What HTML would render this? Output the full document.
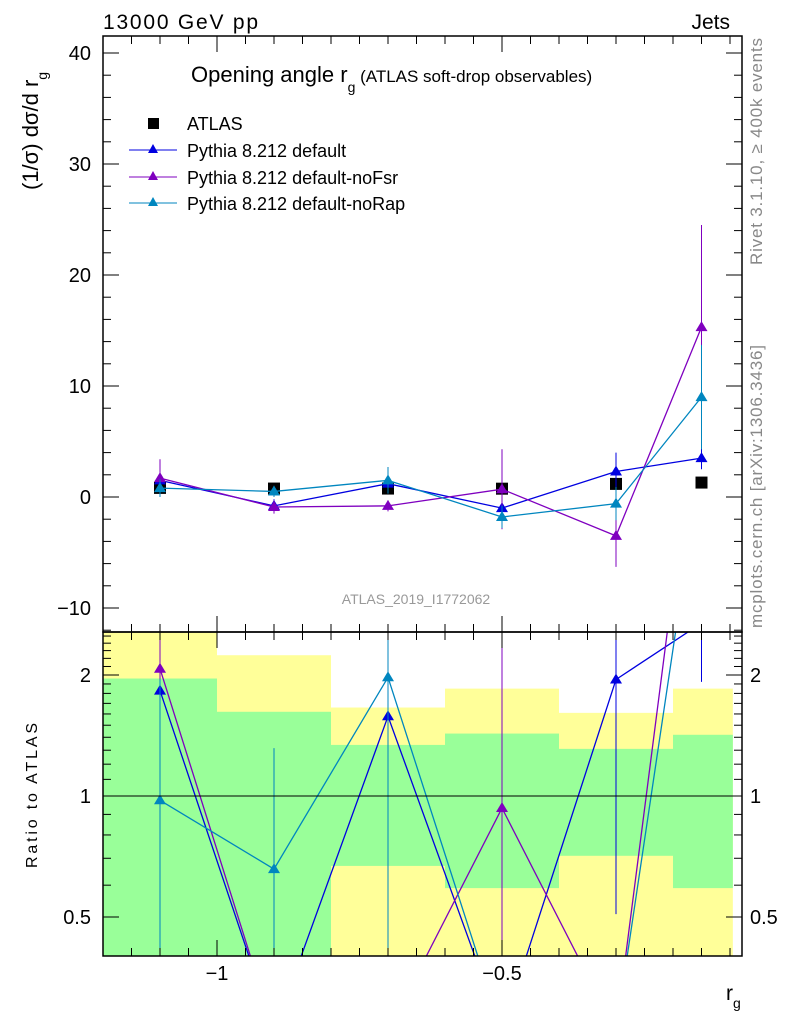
<!DOCTYPE html>
<html><head><meta charset="utf-8"><style>
html,body{margin:0;padding:0;background:#fff;overflow:hidden;}
svg{display:block;font-family:"Liberation Sans",sans-serif;}
</style></head><body>
<svg id="chart" width="786" height="1024" viewBox="0 0 786 1024" xmlns="http://www.w3.org/2000/svg">
<g id="bands"></g>
<g id="marks"></g>
<g id="axes"></g>
<text x="103" y="29" font-size="21" textLength="155">13000 GeV pp</text>
<text x="730" y="29" font-size="21" text-anchor="end">Jets</text>
<text x="191" y="82" font-size="22">Opening angle r<tspan font-size="14" dy="10">g</tspan><tspan font-size="17" dy="-10"> (ATLAS soft-drop observables)</tspan></text>
<g font-size="18">
<rect x="148" y="118" width="11" height="11" fill="#000"/>
<text x="187" y="130">ATLAS</text>
<line x1="129" y1="150" x2="177" y2="150" stroke="#0000e0"/>
<polygon points="153,144 158,153 148,153" fill="#0000e0"/>
<text x="187" y="157">Pythia 8.212 default</text>
<line x1="129" y1="177" x2="177" y2="177" stroke="#7f00bf"/>
<polygon points="153,171 158,180 148,180" fill="#7f00bf"/>
<text x="187" y="184">Pythia 8.212 default-noFsr</text>
<line x1="129" y1="203" x2="177" y2="203" stroke="#0086bf"/>
<polygon points="153,197 158,206 148,206" fill="#0086bf"/>
<text x="187" y="210">Pythia 8.212 default-noRap</text>
</g>
<text x="416" y="604" font-size="14" fill="#999" text-anchor="middle">ATLAS_2019_I1772062</text>
<text transform="translate(762,265) rotate(-90)" font-size="17" fill="#888" textLength="227">Rivet 3.1.10, ≥ 400k events</text>
<text transform="translate(762,628) rotate(-90)" font-size="17" fill="#888" textLength="283">mcplots.cern.ch [arXiv:1306.3436]</text>
<text transform="translate(38,190) rotate(-90)" font-size="22">(1/σ) dσ/d r<tspan font-size="14" dy="9">g</tspan></text>
<text transform="translate(37,868) rotate(-90)" font-size="16" textLength="145">Ratio to ATLAS</text>
<text x="726" y="1000" font-size="21">r<tspan font-size="14" dy="8">g</tspan></text>
</svg>
<script>
const xVals=[-1.1,-0.9,-0.7,-0.5,-0.3,-0.15];
const atlas=[0.82,0.76,0.76,0.75,1.18,1.3];
const pyDefault=[1.5,-0.8,1.2,-1.0,2.3,3.5];
const pyDefaultErr=[1.0,0.6,0.7,1.3,1.7,1.0];
const pyNoFsr=[1.7,-0.9,-0.8,0.7,-3.5,15.3];
const pyNoFsrErr=[1.7,0.6,0.5,3.6,2.8,9.2];
const pyNoRap=[0.8,0.5,1.5,-1.8,-0.6,9.0];
const pyNoRapErr=[0.8,0.5,1.2,1.0,1.5,4.7];
const binEdges=[-1.2,-1.0,-0.8,-0.6,-0.4,-0.2,-0.095];
const yellowHi=[3,2.24,1.66,1.85,1.61,1.85];
const yellowLo=[0.1,0.1,0.1,0.1,0.1,0.1];
const greenHi=[1.96,1.62,1.34,1.43,1.31,1.42];
const greenLo=[0.1,0.1,0.67,0.59,0.71,0.59];
const yTicks=[-10,0,10,20,30,40];
const rTicks=[0.5,1,2];
const xTicks=[-1,-0.5];

const NS='http://www.w3.org/2000/svg';
const L=103,R=742,T=36,M=632,B=956;
const RMIN=0.26;
const X=v=>L+(v+1.2)*570;
const Y=v=>497-v*11.1;
const RY=v=>796-Math.log2(Math.max(v,RMIN))*121;
const cl=(y,a,b)=>Math.max(a,Math.min(b,y));
function mk(p,tag,at){const e=document.createElementNS(NS,tag);for(const k in at)e.setAttribute(k,at[k]);p.appendChild(e);return e;}
const bands=document.getElementById('bands'),marks=document.getElementById('marks'),axes=document.getElementById('axes');
for(let i=0;i<yellowHi.length;i++){
 const x1=X(binEdges[i]),x2=X(binEdges[i+1]);
 let y1=cl(RY(yellowHi[i]),M,B),y2=cl(RY(yellowLo[i]),M,B);
 const r=mk(bands,'rect',{x:x1,y:y1,width:x2-x1,height:y2-y1,fill:'#ffff99'});
 
 
 y1=cl(RY(greenHi[i]),M,B);y2=cl(RY(greenLo[i]),M,B);
 const g=mk(bands,'rect',{x:x1,y:y1,width:x2-x1,height:y2-y1,fill:'#99ff99'});
 
 
}
mk(axes,'line',{x1:L,x2:R,y1:RY(1),y2:RY(1),stroke:'#000'});
const series=[[pyDefault,pyDefaultErr,'#0000e0','default'],[pyNoFsr,pyNoFsrErr,'#7f00bf','nofsr'],[pyNoRap,pyNoRapErr,'#0086bf','norap']];
const defs=mk(document.getElementById('chart'),'defs',{});
const c1=mk(defs,'clipPath',{id:'cm'});mk(c1,'rect',{x:L,y:T,width:R-L,height:M-T});
const c2=mk(defs,'clipPath',{id:'cr'});mk(c2,'rect',{x:L,y:M,width:R-L,height:B-M});
const gm=mk(marks,'g',{'clip-path':'url(#cm)'}),gr=mk(marks,'g',{'clip-path':'url(#cr)'});
xVals.forEach((x,i)=>{const r=mk(gm,'rect',{x:X(x)-6,y:Y(atlas[i])-6,width:12,height:12,fill:'#000'});
 
 });
function tri(g,x,y,c){return mk(g,'polygon',{points:`${x},${y-6} ${x+6},${y+4} ${x-6},${y+4}`,fill:c});}
series.forEach(([v,e,c,n])=>{
 const pl=mk(gm,'polyline',{points:xVals.map((x,i)=>X(x)+','+Y(v[i])).join(' '),fill:'none',stroke:c,'stroke-width':1.3});
 
 
 const pr=mk(gr,'polyline',{points:xVals.map((x,i)=>X(x)+','+RY(v[i]/atlas[i])).join(' '),fill:'none',stroke:c,'stroke-width':1.3});
 
 
 xVals.forEach((x,i)=>{
  mk(gm,'line',{x1:X(x),x2:X(x),y1:Y(v[i]-e[i]),y2:Y(v[i]+e[i]),stroke:c});
  const t=tri(gm,X(x),Y(v[i]),c);
  
  
  const lo=(v[i]-e[i])/atlas[i],hi=(v[i]+e[i])/atlas[i];
  if(v[i]>0){mk(gr,'line',{x1:X(x),x2:X(x),y1:RY(lo),y2:RY(hi),stroke:c});
   const rt=tri(gr,X(x),RY(v[i]/atlas[i]),c);
   
   }
 });
});
mk(axes,'rect',{x:L,y:T,width:R-L,height:M-T,fill:'none',stroke:'#000','stroke-width':1.5});
mk(axes,'rect',{x:L,y:M,width:R-L,height:B-M,fill:'none',stroke:'#000','stroke-width':1.5});
for(let k=0;k<=22;k++){const v=-1.2+k*0.05;const x=X(v);if(x>R)break;
 const maj=Math.abs(v*2-Math.round(v*2))<1e-6;const len=maj?16:8;
 [T,M].forEach(y0=>mk(axes,'line',{x1:x,x2:x,y1:y0,y2:y0+len,stroke:'#000'}));
 [M,B].forEach(y0=>mk(axes,'line',{x1:x,x2:x,y1:y0,y2:y0-len,stroke:'#000'}));}
xTicks.forEach(v=>{const t=mk(axes,'text',{x:X(v),y:980,'font-size':20,'text-anchor':'middle'});t.textContent='\u2212'+String(Math.abs(v));
 
 });
for(let v=-12;v<=41;v+=2){const y=Y(v);const maj=v%10===0;const len=maj?16:8;
 mk(axes,'line',{x1:L,x2:L+len,y1:y,y2:y,stroke:'#000'});mk(axes,'line',{x1:R,x2:R-len,y1:y,y2:y,stroke:'#000'});}
yTicks.forEach(v=>{const t=mk(axes,'text',{x:L-12,y:Y(v)+7,'font-size':20,'text-anchor':'end'});t.textContent=v<0?'\u2212'+(-v):String(v);
 
 });
[0.5,0.6,0.7,0.8,0.9,1,1.1,1.2,1.3,1.4,1.5,1.6,1.7,1.8,1.9,2,2.1,2.2,2.3,2.4,2.5].forEach(v=>{const y=RY(v);const maj=rTicks.includes(v);const len=maj?16:8;
 mk(axes,'line',{x1:L,x2:L+len,y1:y,y2:y,stroke:'#000'});mk(axes,'line',{x1:R,x2:R-len,y1:y,y2:y,stroke:'#000'});});
rTicks.forEach(v=>{[[L-12,'end'],[R+8,'start']].forEach(([x,a])=>{const t=mk(axes,'text',{x:x,y:RY(v)+7,'font-size':20,'text-anchor':a});t.textContent=String(v);
 
 });});
</script>
</body></html>
